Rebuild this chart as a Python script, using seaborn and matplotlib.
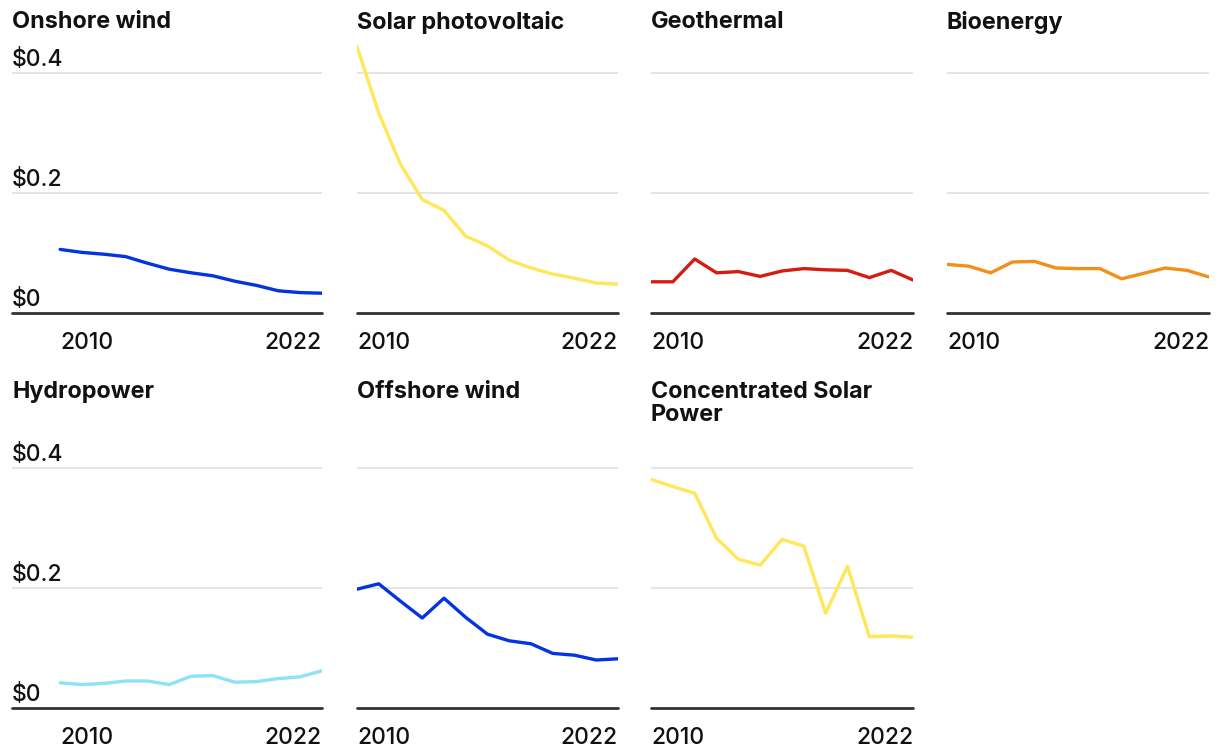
import numpy as np
import pandas as pd
import matplotlib
matplotlib.use('Agg')
import matplotlib.pyplot as plt
import seaborn as sns

# Veri: yıllar ve teknolojilere göre maliyet ($/kWh)
years = list(range(2010, 2023))

onshore_wind = [0.106, 0.101, 0.098, 0.094, 0.083, 0.073, 0.067, 0.062, 0.053, 0.046, 0.037, 0.034, 0.033]
solar_pv = [0.444, 0.333, 0.248, 0.189, 0.171, 0.128, 0.112, 0.088, 0.075, 0.065, 0.058, 0.050, 0.048]
geothermal = [0.052, 0.052, 0.090, 0.067, 0.069, 0.061, 0.070, 0.074, 0.072, 0.071, 0.059, 0.071, 0.055]
bioenergy = [0.081, 0.078, 0.067, 0.085, 0.086, 0.075, 0.074, 0.074, 0.057, 0.066, 0.075, 0.071, 0.060]
hydropower = [0.042, 0.039, 0.041, 0.045, 0.045, 0.039, 0.053, 0.054, 0.043, 0.044, 0.049, 0.052, 0.062]
offshore_wind = [0.198, 0.207, 0.178, 0.150, 0.183, 0.151, 0.123, 0.112, 0.107, 0.091, 0.088, 0.080, 0.082]
csp = [0.381, 0.369, 0.358, 0.283, 0.248, 0.238, 0.281, 0.270, 0.158, 0.236, 0.119, 0.120, 0.118]

titles = ['Onshore wind', 'Solar photovoltaic', 'Geothermal', 'Bioenergy',
          'Hydropower', 'Offshore wind', 'Concentrated Solar\nPower']
series = [onshore_wind, solar_pv, geothermal, bioenergy, hydropower, offshore_wind, csp]
colors = ['#0433e0', '#ffe65a', '#d41c13', '#f0901a', '#8fe1fa', '#0433e0', '#ffe65a']

y_ticks = [0, 0.2, 0.4]
y_labels = ['$0', '$0.2', '$0.4']
x_ticks = [2010, 2022]

sns.set_theme(style='white')
plt.rcParams['font.family'] = ['Inter', 'DejaVu Sans']

W, H = 1220, 754
fig = plt.figure(figsize=(W / 100, H / 100), dpi=100)

# panel konumları (piksel)
col_left = [12, 357, 651, 947]
col_right = [322, 618, 913, 1209]
row_bottom = [313, 708]
panel_h = 270
px_per_year = (col_right[1] - col_left[1]) / 12
title_top = [11, 381]

for i, (name, vals, c) in enumerate(zip(titles, series, colors)):
    r, k = divmod(i, 4)
    left = col_left[k]
    right = col_right[k]
    ax = fig.add_axes([left / W, (H - row_bottom[r]) / H, (right - left) / W, panel_h / H])
    df = pd.DataFrame({'year': years, 'value': vals})
    sns.lineplot(data=df, x='year', y='value', ax=ax, color=c, linewidth=2.4)

    x0 = 2010
    if k == 0:
        x0 = 2010 - 48 / px_per_year
    ax.set_xlim(x0, 2022)
    ax.set_ylim(0, 0.45)
    ax.set_xlabel('')
    ax.set_ylabel('')

    for g in y_ticks[1:]:
        ax.axhline(g, color='#e2e2e2', linewidth=1.3, zorder=0)
    ax.axhline(0, color='#333333', linewidth=2, zorder=3, clip_on=False)

    for s in ax.spines.values():
        s.set_visible(False)

    ax.set_yticks([])
    ax.set_xticks(x_ticks)
    ax.set_xticklabels([str(t) for t in x_ticks], fontsize=16.5, fontweight='medium')
    ax.tick_params(axis='x', length=0, pad=13.5, colors='#111111')
    lbls = ax.get_xticklabels()
    lbls[0].set_ha('left')
    lbls[1].set_ha('right')

    if k == 0:
        for yv, yl in zip(y_ticks, y_labels):
            ax.annotate(yl, xy=(0, yv), xycoords=('axes fraction', 'data'),
                        xytext=(0, 7), textcoords='offset pixels',
                        ha='left', va='baseline', fontsize=16.5, fontweight='medium',
                        color='#111111')

    fig.text(left / W, 1 - title_top[r] / H, name, ha='left', va='top',
             fontsize=16.8, fontweight='bold', color='#111111', linespacing=1.05)

fig.savefig('out.png', dpi=100, facecolor='white')
